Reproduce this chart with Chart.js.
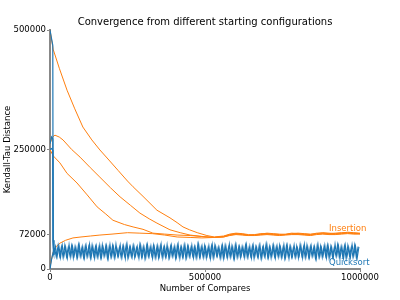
<!DOCTYPE html>
<html>
<head>
<meta charset="utf-8">
<script src="https://cdn.jsdelivr.net/npm/chart.js@4"></script>
<style>
    html, body { margin: 0; padding: 0; background: #fff; }
    #wrap { width: 400px; height: 300px; }
</style>
</head>
<body>
<div id="wrap"><canvas id="chart"></canvas></div>
<script>
// Axis ticks
const xTicks = [0, 500000, 1000000];
const yTicks = [0, 72000, 250000, 500000];

// Insertion sort runs (4 starting configurations)
const insAX = [0, 10000, 30000, 55000, 80000, 106000, 135000, 161000, 190000, 220000, 250000, 268000, 300000, 345000, 387000, 410000, 429000, 450000, 475000, 506000, 530000];
const insAY = [500000, 460000, 420000, 374000, 335000, 297000, 270000, 249000, 228000, 206000, 184000, 172000, 152000, 123000, 107000, 97000, 88000, 82000, 76000, 70000, 67000];

const insBX = [0, 8000, 16000, 30000, 42000, 70000, 97000, 130000, 161000, 195000, 226000, 260000, 290000, 320000, 345000, 387000, 420000, 452000, 490000, 530000];
const insBY = [262000, 276000, 280000, 276000, 270000, 250000, 234000, 212000, 192000, 170000, 151000, 133000, 117000, 105000, 96000, 82000, 76000, 71000, 68000, 66000];

const insCX = [0, 10000, 32000, 55000, 87000, 120000, 152000, 180000, 203000, 240000, 268000, 300000, 332000, 370000, 410000, 452000, 490000, 530000];
const insCY = [250000, 237000, 222000, 200000, 180000, 155000, 130000, 115000, 102000, 93000, 88000, 83000, 75000, 73000, 71000, 70000, 68000, 66000];

const insDX = [0, 10000, 20000, 32000, 50000, 74000, 100000, 130000, 161000, 200000, 250000, 290000, 330000, 370000, 410000, 452000, 490000, 530000];
const insDY = [5000, 35000, 47000, 54000, 60000, 65000, 67000, 69000, 71000, 73000, 76000, 75000, 74000, 71000, 67000, 66000, 65000, 66000];

// shared tail after the runs converge
const tailX = [560000, 580000, 600000, 620000, 640000, 660000, 680000, 700000, 720000, 740000, 760000, 780000, 800000, 820000, 840000, 860000, 880000, 900000, 920000, 940000, 960000, 980000, 1000000];
const tailA = [69000, 73000, 75000, 74000, 72000, 71000, 73000, 75000, 74000, 73000, 72000, 74000, 75000, 74000, 73000, 74000, 76000, 75000, 74000, 75000, 77000, 76000, 75000];
const tailB = [68000, 72000, 74000, 73000, 71000, 72000, 74000, 74000, 73000, 72000, 73000, 75000, 74000, 73000, 72000, 75000, 75000, 74000, 75000, 76000, 76000, 75000, 74000];
const tailC = [67000, 71000, 73000, 72000, 70000, 71000, 72000, 73000, 72000, 71000, 72000, 73000, 73000, 72000, 71000, 73000, 74000, 73000, 73000, 74000, 75000, 74000, 74000];
const tailD = [67000, 70000, 72000, 71000, 70000, 70000, 71000, 72000, 71000, 70000, 71000, 72000, 72000, 71000, 70000, 72000, 73000, 72000, 72000, 73000, 74000, 73000, 73000];

// Quicksort runs: early part before the oscillating band
const qsAX = [0, 4000, 9000, 10000, 12000];
const qsAY = [500000, 485000, 468000, 60000, 30000];
const qsBX = [0, 5000, 9000, 10000, 12000];
const qsBY = [262000, 276000, 272000, 60000, 30000];
const qsCX = [0, 5000, 9500, 10000, 12000];
const qsCY = [250000, 252000, 248000, 60000, 30000];
const qsDX = [0, 5000, 10000, 12000];
const qsDY = [0, 20000, 35000, 30000];

// Quicksort oscillating band, two overlapping runs
const bandStart = 12000;
const bandStart2 = 14750;
const bandStep = 5500;
const bandY = [
    30000, 47000, 26000, 49000, 24000, 50000, 27000, 46000, 23000, 51000,
    25000, 48000, 28000, 45000, 24000, 50000, 26000, 47000, 23000, 49000,
    27000, 52000, 25000, 46000, 22000, 48000, 26000, 50000, 24000, 45000,
    28000, 49000, 23000, 51000, 26000, 47000, 25000, 44000, 27000, 50000,
    24000, 48000, 22000, 52000, 26000, 46000, 25000, 49000, 28000, 47000,
    23000, 50000, 26000, 45000, 24000, 51000, 27000, 48000, 22000, 46000,
    25000, 49000, 27000, 52000, 23000, 47000, 26000, 44000, 24000, 50000,
    28000, 48000, 25000, 51000, 22000, 46000, 26000, 49000, 24000, 47000,
    27000, 50000, 23000, 45000, 25000, 52000, 26000, 48000, 24000, 46000,
    28000, 49000, 22000, 51000, 25000, 47000, 27000, 44000, 23000, 50000,
    26000, 48000, 24000, 52000, 27000, 46000, 22000, 49000, 25000, 47000,
    28000, 45000, 24000, 51000, 26000, 48000, 23000, 50000, 27000, 46000,
    25000, 49000, 22000, 47000, 26000, 52000, 24000, 45000, 28000, 50000,
    23000, 48000, 25000, 46000, 27000, 51000, 24000, 49000, 22000, 47000,
    26000, 50000, 25000, 44000, 28000, 48000, 23000, 52000, 26000, 46000,
    24000, 49000, 27000, 47000, 22000, 51000, 25000, 45000, 28000, 50000,
    23000, 48000, 26000, 46000, 24000, 52000, 27000, 49000, 25000, 47000,
    22000, 50000, 26000, 45000, 24000, 51000, 28000, 48000, 23000, 46000
];
const bandY2 = [
    44000, 25000, 48000, 27000, 46000, 24000, 50000, 26000, 45000, 28000,
    49000, 23000, 47000, 25000, 51000, 27000, 44000, 24000, 48000, 26000,
    46000, 23000, 50000, 28000, 47000, 25000, 45000, 24000, 51000, 27000,
    48000, 22000, 46000, 26000, 49000, 24000, 52000, 27000, 45000, 25000,
    47000, 28000, 50000, 23000, 46000, 26000, 48000, 24000, 44000, 27000,
    51000, 25000, 47000, 22000, 49000, 26000, 45000, 28000, 50000, 24000,
    46000, 23000, 48000, 27000, 45000, 25000, 51000, 24000, 47000, 26000,
    44000, 22000, 49000, 27000, 46000, 25000, 50000, 23000, 48000, 26000,
    45000, 28000, 47000, 24000, 51000, 25000, 46000, 27000, 49000, 23000,
    44000, 26000, 48000, 24000, 50000, 28000, 46000, 25000, 47000, 22000,
    49000, 27000, 45000, 25000, 48000, 23000, 51000, 26000, 46000, 24000,
    47000, 28000, 50000, 25000, 44000, 27000, 48000, 22000, 46000, 26000,
    49000, 24000, 45000, 27000, 51000, 25000, 47000, 23000, 48000, 26000,
    46000, 28000, 50000, 24000, 45000, 22000, 49000, 27000, 47000, 25000,
    44000, 26000, 48000, 23000, 51000, 28000, 46000, 24000, 50000, 25000,
    47000, 27000, 45000, 22000, 49000, 26000, 48000, 24000, 46000, 27000,
    50000, 23000, 47000, 25000, 44000, 28000, 51000, 24000, 46000, 26000,
    48000, 22000, 49000, 27000, 45000, 25000, 50000, 23000, 47000
];

const ORANGE = '#ff7f0e';
const BLUE = '#1f77b4';
const GRAY = '#888888';
const FONT = 'DejaVu Sans';

function pts(xs, ys) {
    return xs.map((x, i) => ({ x: x, y: ys[i] }));
}

function insertionRun(xs, ys, tail) {
    return {
        data: pts(xs, ys).concat(pts(tailX, tail)),
        borderColor: ORANGE,
        borderWidth: 1,
        order: 2
    };
}

function blueRun(data, width) {
    return { data: data, borderColor: BLUE, borderWidth: width, order: 1 };
}

function bandPoints(start, ys) {
    return ys.map((y, i) => ({ x: start + i * bandStep, y: y }));
}

// title and the labels at the right end of each group
const textPlugin = {
    id: 'texts',
    afterDraw(chart) {
        const ctx = chart.ctx;
        const area = chart.chartArea;
        const xs = chart.scales.x;
        const ys = chart.scales.y;
        ctx.save();
        ctx.fillStyle = '#000';
        ctx.font = '10px "' + FONT + '"';
        ctx.textAlign = 'center';
        ctx.textBaseline = 'middle';
        ctx.fillText('Convergence from different starting configurations', (area.left + area.right) / 2, 22);

        ctx.font = '8.5px "' + FONT + '"';
        ctx.textAlign = 'left';
        ctx.fillStyle = ORANGE;
        ctx.fillText('Insertion', xs.getPixelForValue(900000), ys.getPixelForValue(84000));
        ctx.fillStyle = BLUE;
        ctx.fillText('Quicksort', xs.getPixelForValue(900000), ys.getPixelForValue(14000));
        ctx.restore();
    }
};

const ctx = document.getElementById('chart').getContext('2d');
new Chart(ctx, {
    type: 'line',
    data: {
        datasets: [
            blueRun(pts(qsAX, qsAY), 1.2),
            blueRun(pts(qsBX, qsBY), 1.2),
            blueRun(pts(qsCX, qsCY), 1.2),
            blueRun(pts(qsDX, qsDY), 1.2),
            blueRun(bandPoints(bandStart, bandY), 1.1),
            blueRun(bandPoints(bandStart2, bandY2), 1.1),
            insertionRun(insAX, insAY, tailA),
            insertionRun(insBX, insBY, tailB),
            insertionRun(insCX, insCY, tailC),
            insertionRun(insDX, insDY, tailD)
        ]
    },
    options: {
        responsive: true,
        maintainAspectRatio: false,
        animation: false,
        layout: { padding: { top: 30, right: 40, left: 0, bottom: 0 } },
        elements: { point: { radius: 0 }, line: { tension: 0 } },
        plugins: {
            legend: { display: false },
            tooltip: { enabled: false },
            title: { display: false }
        },
        scales: {
            x: {
                type: 'linear',
                min: 0,
                max: 1000000,
                afterBuildTicks: scale => { scale.ticks = xTicks.map(v => ({ value: v })); },
                afterFit: scale => { scale.height = 31; },
                ticks: {
                    color: '#000',
                    font: { family: FONT, size: 8.5 },
                    padding: 1,
                    maxRotation: 0,
                    callback: v => String(v)
                },
                grid: { drawOnChartArea: false, drawTicks: true, tickLength: 3, color: GRAY },
                border: { display: true, color: GRAY, width: 2 },
                title: {
                    display: true,
                    text: 'Number of Compares',
                    color: '#000',
                    font: { family: FONT, size: 8.5 },
                    padding: { top: 6, bottom: 6 }
                }
            },
            y: {
                type: 'linear',
                min: 0,
                max: 500000,
                afterBuildTicks: scale => { scale.ticks = yTicks.map(v => ({ value: v })); },
                afterFit: scale => { scale.width = 50; },
                ticks: {
                    color: '#000',
                    font: { family: FONT, size: 8.5 },
                    padding: 1,
                    callback: v => String(v)
                },
                grid: { drawOnChartArea: false, drawTicks: true, tickLength: 3, color: GRAY },
                border: { display: true, color: GRAY, width: 2 },
                title: {
                    display: true,
                    text: 'Kendall-Tau Distance',
                    color: '#000',
                    font: { family: FONT, size: 8.5 },
                    padding: { top: 3, bottom: 2 }
                }
            }
        }
    },
    plugins: [textPlugin]
});
</script>
</body>
</html>
